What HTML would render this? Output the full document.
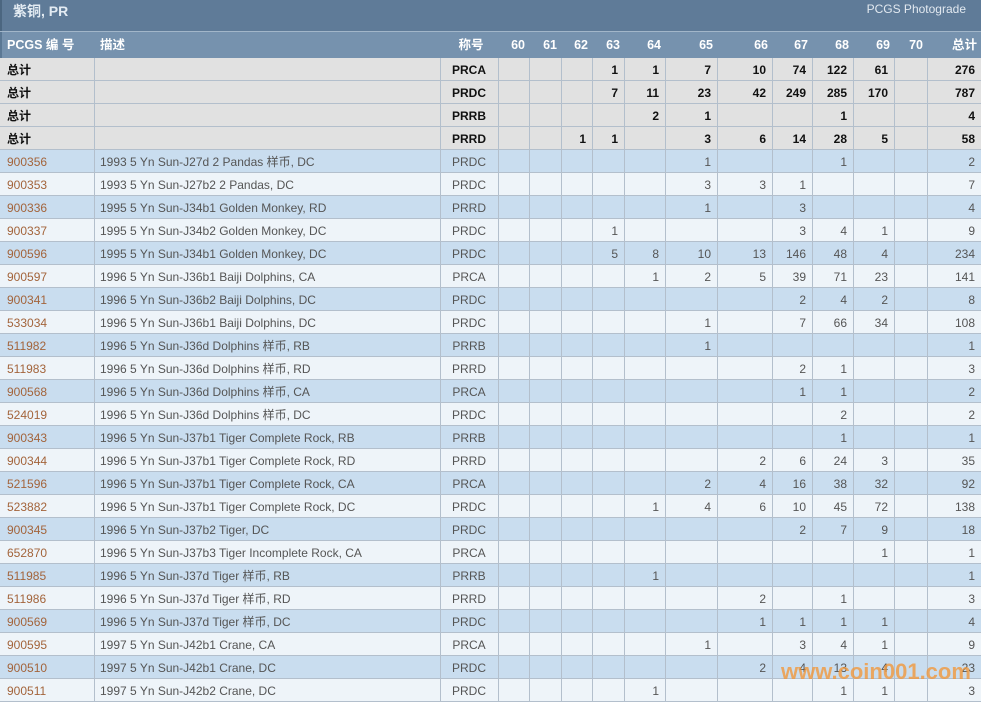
<!DOCTYPE html>
<html><head><meta charset="utf-8">
<style>
*{margin:0;padding:0;box-sizing:border-box}
html,body{width:981px;height:702px;overflow:hidden;background:#fff}
body{position:relative;font-family:"Liberation Sans","Noto Sans CJK SC",sans-serif;font-size:12px;color:#555}
#title{position:absolute;left:0;top:0;width:981px;height:31px;background:#5f7b98;border-left:2px solid #4b6680}
#title .t{position:absolute;left:11px;top:2px;font-size:14px;font-weight:bold;color:#e4ecf3;line-height:18px}
#title .p{position:absolute;right:15px;top:1px;font-size:12px;color:#e2e9f0;line-height:16px}
#sep{position:absolute;left:0;top:31px;width:981px;height:1px;background:#a2b6c9}
#hdr{position:absolute;left:0;top:32px;width:981px;height:26px;background:#7692ae;border-left:2px solid #5b7894;color:#fff;font-weight:bold;font-size:12.5px}
#hdr span{position:absolute;top:0;line-height:26px}
#body{position:absolute;left:0;top:58px;width:981px}
.r{position:relative;height:23px;border-bottom:1px solid #b3bfcc}
.r span{position:absolute;top:1px;line-height:22px;white-space:nowrap}
.g{background:#e1e1e1;color:#111;font-weight:bold}
.b{background:#c9ddef}
.l{background:#eef4f9}
.c0{left:0;width:94px;padding-left:7px}
.c1{left:94px;width:346px;padding-left:6px}
.c2{left:440px;width:58px;text-align:center}
.a{left:498px;width:31px}
.bb{left:529px;width:32px}
.c{left:561px;width:31px}
.d{left:592px;width:32px}
.e{left:624px;width:41px}
.f{left:665px;width:52px}
.h{left:717px;width:55px}
.i{left:772px;width:40px}
.j{left:812px;width:41px}
.k{left:853px;width:41px}
.m{left:894px;width:33px}
.t2{left:927px;width:54px}
.a,.bb,.c,.d,.e,.f,.h,.i,.j,.k,.m,.t2{text-align:right;padding-right:6px}
.n{color:#a3643b}
.vl{position:absolute;top:58px;width:1px;height:644px;background:#b3bfcc}
#wm{position:absolute;left:781px;top:659px;font-size:22px;font-weight:bold;color:rgba(242,150,55,0.78);line-height:26px}
</style></head><body>
<div id="title"><span class="t">紫铜, PR</span><span class="p">PCGS Photograde</span></div>
<div id="sep"></div>
<div id="hdr">
<span style="left:5px">PCGS 编 号</span>
<span style="left:98px">描述</span>
<span class="c2">称号</span>
<span class="a">60</span><span class="bb">61</span><span class="c">62</span><span class="d">63</span><span class="e">64</span><span class="f">65</span><span class="h">66</span><span class="i">67</span><span class="j">68</span><span class="k">69</span><span class="m">70</span><span class="t2">总计</span>
</div>
<div id="body">
<div class="r g"><span class="c0">总计</span><span class="c2">PRCA</span><span class="d">1</span><span class="e">1</span><span class="f">7</span><span class="h">10</span><span class="i">74</span><span class="j">122</span><span class="k">61</span><span class="t2">276</span></div>
<div class="r g"><span class="c0">总计</span><span class="c2">PRDC</span><span class="d">7</span><span class="e">11</span><span class="f">23</span><span class="h">42</span><span class="i">249</span><span class="j">285</span><span class="k">170</span><span class="t2">787</span></div>
<div class="r g"><span class="c0">总计</span><span class="c2">PRRB</span><span class="e">2</span><span class="f">1</span><span class="j">1</span><span class="t2">4</span></div>
<div class="r g"><span class="c0">总计</span><span class="c2">PRRD</span><span class="c">1</span><span class="d">1</span><span class="f">3</span><span class="h">6</span><span class="i">14</span><span class="j">28</span><span class="k">5</span><span class="t2">58</span></div>

<div class="r b"><span class="c0 n">900356</span><span class="c1">1993 5 Yn Sun-J27d 2 Pandas 样币, DC</span><span class="c2">PRDC</span><span class="f">1</span><span class="j">1</span><span class="t2">2</span></div>
<div class="r l"><span class="c0 n">900353</span><span class="c1">1993 5 Yn Sun-J27b2 2 Pandas, DC</span><span class="c2">PRDC</span><span class="f">3</span><span class="h">3</span><span class="i">1</span><span class="t2">7</span></div>
<div class="r b"><span class="c0 n">900336</span><span class="c1">1995 5 Yn Sun-J34b1 Golden Monkey, RD</span><span class="c2">PRRD</span><span class="f">1</span><span class="i">3</span><span class="t2">4</span></div>
<div class="r l"><span class="c0 n">900337</span><span class="c1">1995 5 Yn Sun-J34b2 Golden Monkey, DC</span><span class="c2">PRDC</span><span class="d">1</span><span class="i">3</span><span class="j">4</span><span class="k">1</span><span class="t2">9</span></div>
<div class="r b"><span class="c0 n">900596</span><span class="c1">1995 5 Yn Sun-J34b1 Golden Monkey, DC</span><span class="c2">PRDC</span><span class="d">5</span><span class="e">8</span><span class="f">10</span><span class="h">13</span><span class="i">146</span><span class="j">48</span><span class="k">4</span><span class="t2">234</span></div>
<div class="r l"><span class="c0 n">900597</span><span class="c1">1996 5 Yn Sun-J36b1 Baiji Dolphins, CA</span><span class="c2">PRCA</span><span class="e">1</span><span class="f">2</span><span class="h">5</span><span class="i">39</span><span class="j">71</span><span class="k">23</span><span class="t2">141</span></div>
<div class="r b"><span class="c0 n">900341</span><span class="c1">1996 5 Yn Sun-J36b2 Baiji Dolphins, DC</span><span class="c2">PRDC</span><span class="i">2</span><span class="j">4</span><span class="k">2</span><span class="t2">8</span></div>
<div class="r l"><span class="c0 n">533034</span><span class="c1">1996 5 Yn Sun-J36b1 Baiji Dolphins, DC</span><span class="c2">PRDC</span><span class="f">1</span><span class="i">7</span><span class="j">66</span><span class="k">34</span><span class="t2">108</span></div>
<div class="r b"><span class="c0 n">511982</span><span class="c1">1996 5 Yn Sun-J36d Dolphins 样币, RB</span><span class="c2">PRRB</span><span class="f">1</span><span class="t2">1</span></div>
<div class="r l"><span class="c0 n">511983</span><span class="c1">1996 5 Yn Sun-J36d Dolphins 样币, RD</span><span class="c2">PRRD</span><span class="i">2</span><span class="j">1</span><span class="t2">3</span></div>
<div class="r b"><span class="c0 n">900568</span><span class="c1">1996 5 Yn Sun-J36d Dolphins 样币, CA</span><span class="c2">PRCA</span><span class="i">1</span><span class="j">1</span><span class="t2">2</span></div>
<div class="r l"><span class="c0 n">524019</span><span class="c1">1996 5 Yn Sun-J36d Dolphins 样币, DC</span><span class="c2">PRDC</span><span class="j">2</span><span class="t2">2</span></div>
<div class="r b"><span class="c0 n">900343</span><span class="c1">1996 5 Yn Sun-J37b1 Tiger Complete Rock, RB</span><span class="c2">PRRB</span><span class="j">1</span><span class="t2">1</span></div>
<div class="r l"><span class="c0 n">900344</span><span class="c1">1996 5 Yn Sun-J37b1 Tiger Complete Rock, RD</span><span class="c2">PRRD</span><span class="h">2</span><span class="i">6</span><span class="j">24</span><span class="k">3</span><span class="t2">35</span></div>
<div class="r b"><span class="c0 n">521596</span><span class="c1">1996 5 Yn Sun-J37b1 Tiger Complete Rock, CA</span><span class="c2">PRCA</span><span class="f">2</span><span class="h">4</span><span class="i">16</span><span class="j">38</span><span class="k">32</span><span class="t2">92</span></div>
<div class="r l"><span class="c0 n">523882</span><span class="c1">1996 5 Yn Sun-J37b1 Tiger Complete Rock, DC</span><span class="c2">PRDC</span><span class="e">1</span><span class="f">4</span><span class="h">6</span><span class="i">10</span><span class="j">45</span><span class="k">72</span><span class="t2">138</span></div>
<div class="r b"><span class="c0 n">900345</span><span class="c1">1996 5 Yn Sun-J37b2 Tiger, DC</span><span class="c2">PRDC</span><span class="i">2</span><span class="j">7</span><span class="k">9</span><span class="t2">18</span></div>
<div class="r l"><span class="c0 n">652870</span><span class="c1">1996 5 Yn Sun-J37b3 Tiger Incomplete Rock, CA</span><span class="c2">PRCA</span><span class="k">1</span><span class="t2">1</span></div>
<div class="r b"><span class="c0 n">511985</span><span class="c1">1996 5 Yn Sun-J37d Tiger 样币, RB</span><span class="c2">PRRB</span><span class="e">1</span><span class="t2">1</span></div>
<div class="r l"><span class="c0 n">511986</span><span class="c1">1996 5 Yn Sun-J37d Tiger 样币, RD</span><span class="c2">PRRD</span><span class="h">2</span><span class="j">1</span><span class="t2">3</span></div>
<div class="r b"><span class="c0 n">900569</span><span class="c1">1996 5 Yn Sun-J37d Tiger 样币, DC</span><span class="c2">PRDC</span><span class="h">1</span><span class="i">1</span><span class="j">1</span><span class="k">1</span><span class="t2">4</span></div>
<div class="r l"><span class="c0 n">900595</span><span class="c1">1997 5 Yn Sun-J42b1 Crane, CA</span><span class="c2">PRCA</span><span class="f">1</span><span class="i">3</span><span class="j">4</span><span class="k">1</span><span class="t2">9</span></div>
<div class="r b"><span class="c0 n">900510</span><span class="c1">1997 5 Yn Sun-J42b1 Crane, DC</span><span class="c2">PRDC</span><span class="h">2</span><span class="i">4</span><span class="j">13</span><span class="k">4</span><span class="t2">23</span></div>
<div class="r l"><span class="c0 n">900511</span><span class="c1">1997 5 Yn Sun-J42b2 Crane, DC</span><span class="c2">PRDC</span><span class="e">1</span><span class="j">1</span><span class="k">1</span><span class="t2">3</span></div>
</div>
<div class="vl" style="left:94px"></div>
<div class="vl" style="left:440px"></div>
<div class="vl" style="left:498px"></div>
<div class="vl" style="left:529px"></div>
<div class="vl" style="left:561px"></div>
<div class="vl" style="left:592px"></div>
<div class="vl" style="left:624px"></div>
<div class="vl" style="left:665px"></div>
<div class="vl" style="left:717px"></div>
<div class="vl" style="left:772px"></div>
<div class="vl" style="left:812px"></div>
<div class="vl" style="left:853px"></div>
<div class="vl" style="left:894px"></div>
<div class="vl" style="left:927px"></div>
<div id="wm">www.coin001.com</div>
</body></html>
